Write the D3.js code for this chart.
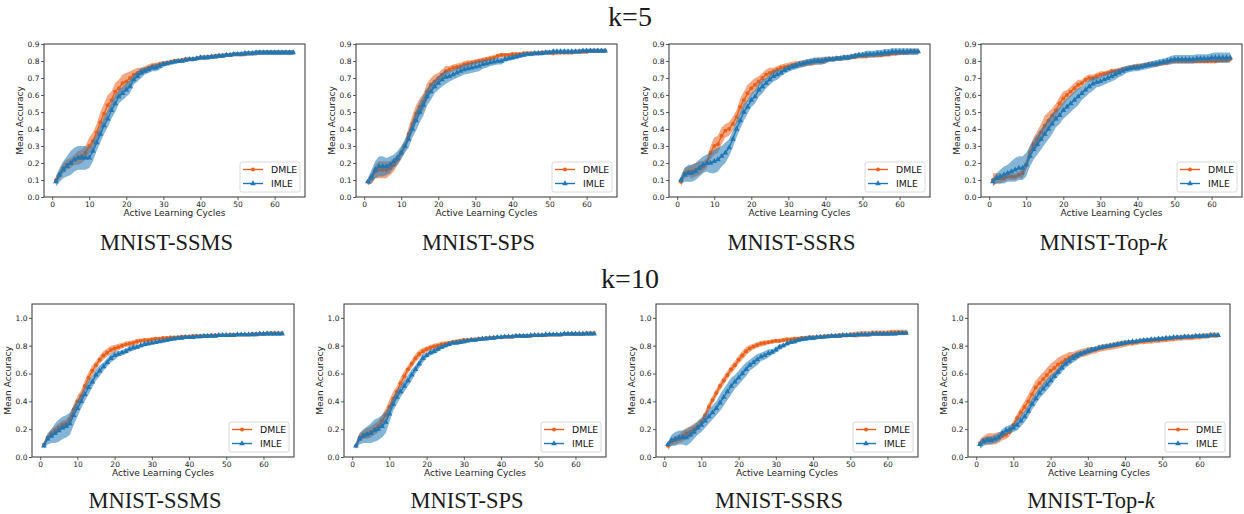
<!DOCTYPE html>
<html>
<head>
<meta charset="utf-8">
<script src="https://cdn.jsdelivr.net/npm/d3@7"></script>
<style>
  body { margin: 0; background: #fff; }
  .tick text { font-family: "DejaVu Sans", sans-serif; font-size: 7.5px; fill: #222; }
  .tick line { stroke: #333; stroke-width: 0.8; }
  .axis-label { font-family: "DejaVu Sans", sans-serif; font-size: 9px; fill: #222; }
  .legend-text { font-family: "DejaVu Sans", sans-serif; font-size: 9.3px; fill: #111; }
  .caption { font-family: "Liberation Serif", serif; font-size: 22.5px; fill: #1a1a1a; }
  .header { font-family: "Liberation Serif", serif; font-size: 28px; fill: #1a1a1a; }
</style>
</head>
<body>
<svg id="chart" width="1244" height="514"></svg>
<script>
// active learning cycles 1..65
const cycles = [1,2,3,4,5,6,7,8,9,10,11,12,13,14,15,16,17,18,19,20,21,22,23,24,25,26,27,28,29,30,
  31,32,33,34,35,36,37,38,39,40,41,42,43,44,45,46,47,48,49,50,51,52,53,54,55,56,57,58,59,60,61,62,63,64,65];
const xTicks = [0,10,20,30,40,50,60];
const yTicksK5 = [0,0.1,0.2,0.3,0.4,0.5,0.6,0.7,0.8,0.9];
const yTicksK10 = [0,0.2,0.4,0.6,0.8,1.0];
const seriesNames = ['DMLE','IMLE'];
const captions = ['MNIST-SSMS','MNIST-SPS','MNIST-SSRS','MNIST-Top-'];
const headers = ['k=5','k=10'];

// ---- k=5 ----
const k5SsmsDmle = [0.10,0.13,0.17,0.19,0.20,0.22,0.23,0.24,0.26,0.30,
  0.33,0.38,0.44,0.49,0.54,0.57,0.62,0.64,0.67,0.68,
  0.70,0.72,0.73,0.74,0.75,0.76,0.77,0.775,0.78,0.785,
  0.79,0.795,0.80,0.80,0.805,0.81,0.81,0.81,0.815,0.82,
  0.82,0.825,0.825,0.83,0.83,0.83,0.835,0.835,0.84,0.84,
  0.84,0.84,0.845,0.845,0.845,0.85,0.85,0.85,0.85,0.85,
  0.85,0.85,0.85,0.85,0.85];
const k5SsmsDmleSd = [0.02,0.03,0.03,0.03,0.03,0.03,0.04,0.04,0.04,0.05,
  0.05,0.05,0.06,0.06,0.06,0.05,0.05,0.05,0.05,0.05,
  0.04,0.03,0.03,0.02,0.02,0.02,0.02,0.015,0.015,0.015,
  0.012,0.012,0.012,0.012,0.012,0.012,0.012,0.012,0.012,0.012,
  0.012,0.012,0.012,0.012,0.012,0.012,0.012,0.012,0.012,0.012,
  0.012,0.012,0.012,0.012,0.012,0.012,0.012,0.012,0.012,0.012,
  0.012,0.012,0.012,0.012,0.012];
const k5SsmsImle = [0.09,0.13,0.16,0.18,0.20,0.22,0.23,0.23,0.23,0.23,
  0.27,0.32,0.37,0.42,0.46,0.51,0.55,0.59,0.61,0.63,
  0.65,0.69,0.71,0.73,0.74,0.75,0.76,0.76,0.77,0.78,
  0.785,0.79,0.795,0.80,0.80,0.805,0.81,0.81,0.815,0.82,
  0.82,0.82,0.825,0.825,0.83,0.83,0.835,0.835,0.84,0.84,
  0.84,0.845,0.845,0.845,0.85,0.85,0.85,0.85,0.85,0.85,
  0.85,0.85,0.85,0.85,0.85];
const k5SsmsImleSd = [0.03,0.04,0.05,0.06,0.07,0.07,0.07,0.07,0.07,0.06,
  0.06,0.05,0.05,0.05,0.05,0.05,0.05,0.04,0.04,0.04,
  0.04,0.03,0.03,0.03,0.02,0.02,0.02,0.02,0.02,0.015,
  0.012,0.012,0.012,0.012,0.012,0.012,0.012,0.012,0.012,0.012,
  0.012,0.012,0.012,0.012,0.012,0.012,0.012,0.012,0.012,0.012,
  0.014,0.014,0.014,0.014,0.014,0.014,0.014,0.014,0.014,0.014,
  0.014,0.014,0.014,0.014,0.014];

const k5SpsDmle = [0.09,0.11,0.15,0.16,0.16,0.16,0.17,0.19,0.22,0.26,
  0.30,0.37,0.43,0.49,0.53,0.56,0.62,0.66,0.68,0.70,
  0.72,0.74,0.75,0.76,0.765,0.77,0.78,0.785,0.79,0.795,
  0.80,0.805,0.81,0.815,0.82,0.83,0.835,0.835,0.835,0.84,
  0.84,0.84,0.845,0.845,0.845,0.845,0.845,0.85,0.85,0.85,
  0.845,0.85,0.85,0.85,0.85,0.85,0.855,0.855,0.855,0.855,
  0.86,0.86,0.86,0.86,0.86];
const k5SpsDmleSd = [0.02,0.03,0.04,0.05,0.05,0.05,0.04,0.04,0.03,0.03,
  0.03,0.04,0.05,0.05,0.05,0.05,0.05,0.04,0.04,0.03,
  0.03,0.03,0.02,0.02,0.02,0.02,0.02,0.02,0.015,0.015,
  0.015,0.015,0.015,0.015,0.015,0.012,0.012,0.012,0.012,0.012,
  0.012,0.012,0.012,0.012,0.012,0.012,0.012,0.012,0.012,0.012,
  0.012,0.012,0.012,0.012,0.012,0.012,0.012,0.012,0.012,0.012,
  0.012,0.012,0.012,0.012,0.012];
const k5SpsImle = [0.09,0.12,0.16,0.18,0.18,0.18,0.19,0.21,0.23,0.26,
  0.30,0.34,0.40,0.45,0.50,0.54,0.59,0.62,0.65,0.67,
  0.69,0.705,0.71,0.72,0.73,0.74,0.75,0.755,0.76,0.765,
  0.77,0.78,0.785,0.79,0.795,0.80,0.80,0.81,0.815,0.82,
  0.825,0.83,0.835,0.84,0.84,0.845,0.845,0.845,0.85,0.85,
  0.855,0.855,0.855,0.855,0.855,0.855,0.855,0.855,0.86,0.86,
  0.86,0.86,0.86,0.86,0.86];
const k5SpsImleSd = [0.02,0.04,0.05,0.06,0.06,0.05,0.05,0.04,0.04,0.04,
  0.04,0.05,0.05,0.06,0.06,0.06,0.05,0.05,0.04,0.04,
  0.04,0.04,0.03,0.03,0.03,0.03,0.03,0.03,0.03,0.03,
  0.03,0.025,0.025,0.02,0.02,0.02,0.02,0.015,0.015,0.015,
  0.012,0.012,0.012,0.012,0.012,0.012,0.012,0.012,0.012,0.012,
  0.012,0.012,0.012,0.012,0.012,0.012,0.012,0.012,0.012,0.012,
  0.012,0.012,0.012,0.012,0.012];

const k5SsrsDmle = [0.09,0.14,0.15,0.15,0.16,0.17,0.18,0.20,0.26,0.30,
  0.31,0.36,0.39,0.40,0.43,0.47,0.53,0.57,0.61,0.64,
  0.66,0.68,0.70,0.72,0.73,0.74,0.75,0.76,0.765,0.77,
  0.775,0.78,0.78,0.785,0.79,0.79,0.795,0.80,0.80,0.805,
  0.81,0.81,0.815,0.815,0.82,0.82,0.825,0.825,0.83,0.83,
  0.83,0.835,0.835,0.835,0.835,0.84,0.84,0.845,0.845,0.85,
  0.85,0.85,0.855,0.855,0.855];
const k5SsrsDmleSd = [0.03,0.03,0.03,0.04,0.04,0.04,0.03,0.03,0.04,0.05,
  0.05,0.05,0.04,0.04,0.04,0.04,0.05,0.05,0.05,0.04,
  0.04,0.03,0.03,0.03,0.03,0.02,0.02,0.02,0.02,0.02,
  0.02,0.02,0.02,0.02,0.02,0.02,0.02,0.02,0.02,0.02,
  0.015,0.015,0.015,0.015,0.015,0.015,0.015,0.015,0.015,0.015,
  0.015,0.015,0.015,0.015,0.015,0.015,0.015,0.015,0.015,0.015,
  0.015,0.015,0.015,0.015,0.015];
const k5SsrsImle = [0.10,0.13,0.14,0.14,0.15,0.17,0.19,0.20,0.20,0.21,
  0.22,0.24,0.26,0.29,0.34,0.40,0.45,0.50,0.53,0.57,
  0.59,0.63,0.65,0.67,0.69,0.71,0.72,0.73,0.745,0.755,
  0.765,0.77,0.78,0.785,0.79,0.795,0.80,0.80,0.80,0.805,
  0.81,0.81,0.815,0.815,0.82,0.82,0.825,0.83,0.835,0.835,
  0.84,0.84,0.84,0.845,0.845,0.85,0.85,0.855,0.855,0.855,
  0.855,0.855,0.855,0.855,0.855];
const k5SsrsImleSd = [0.02,0.04,0.05,0.05,0.05,0.05,0.05,0.05,0.06,0.07,
  0.07,0.06,0.06,0.05,0.05,0.05,0.05,0.05,0.04,0.04,
  0.04,0.04,0.04,0.03,0.03,0.03,0.03,0.02,0.02,0.02,
  0.02,0.02,0.02,0.02,0.02,0.02,0.02,0.02,0.02,0.02,
  0.015,0.015,0.015,0.015,0.015,0.015,0.015,0.015,0.015,0.015,
  0.02,0.02,0.02,0.02,0.02,0.02,0.02,0.02,0.02,0.02,
  0.02,0.02,0.02,0.02,0.02];

const k5TopkDmle = [0.10,0.11,0.11,0.11,0.12,0.12,0.12,0.13,0.14,0.19,
  0.26,0.31,0.34,0.38,0.42,0.45,0.48,0.51,0.55,0.58,
  0.60,0.62,0.64,0.66,0.67,0.69,0.70,0.70,0.71,0.72,
  0.725,0.73,0.74,0.74,0.745,0.75,0.755,0.76,0.765,0.77,
  0.77,0.775,0.78,0.78,0.78,0.785,0.79,0.79,0.80,0.80,
  0.80,0.80,0.80,0.80,0.80,0.80,0.80,0.80,0.80,0.80,
  0.80,0.805,0.805,0.805,0.81];
const k5TopkDmleSd = [0.04,0.03,0.03,0.02,0.02,0.02,0.02,0.02,0.03,0.03,
  0.04,0.04,0.05,0.05,0.06,0.05,0.04,0.04,0.04,0.04,
  0.03,0.03,0.03,0.03,0.02,0.02,0.02,0.02,0.02,0.02,
  0.015,0.015,0.015,0.015,0.015,0.015,0.015,0.015,0.015,0.015,
  0.015,0.015,0.015,0.015,0.015,0.015,0.015,0.015,0.015,0.015,
  0.015,0.015,0.015,0.015,0.015,0.015,0.015,0.015,0.015,0.015,
  0.015,0.015,0.015,0.015,0.015];
const k5TopkImle = [0.09,0.11,0.12,0.13,0.14,0.15,0.16,0.17,0.17,0.19,
  0.24,0.28,0.31,0.34,0.37,0.40,0.43,0.46,0.48,0.51,
  0.53,0.55,0.57,0.59,0.61,0.63,0.65,0.665,0.675,0.68,
  0.69,0.70,0.71,0.72,0.73,0.74,0.75,0.755,0.76,0.76,
  0.765,0.77,0.775,0.78,0.785,0.79,0.795,0.80,0.805,0.81,
  0.81,0.81,0.81,0.81,0.81,0.815,0.815,0.815,0.815,0.82,
  0.82,0.82,0.82,0.82,0.82];
const k5TopkImleSd = [0.02,0.03,0.04,0.05,0.05,0.06,0.07,0.07,0.07,0.07,
  0.06,0.06,0.06,0.06,0.06,0.06,0.06,0.05,0.05,0.05,
  0.05,0.05,0.05,0.05,0.04,0.04,0.04,0.04,0.03,0.03,
  0.03,0.03,0.03,0.03,0.025,0.025,0.02,0.02,0.02,0.02,
  0.02,0.02,0.02,0.02,0.02,0.02,0.02,0.02,0.025,0.025,
  0.025,0.025,0.025,0.025,0.025,0.025,0.025,0.025,0.025,0.025,
  0.03,0.03,0.03,0.03,0.03];

// ---- k=10 ----
const k10SsmsDmle = [0.09,0.14,0.17,0.19,0.21,0.23,0.24,0.27,0.34,0.40,
  0.44,0.51,0.57,0.62,0.66,0.70,0.73,0.75,0.77,0.78,
  0.79,0.80,0.81,0.815,0.82,0.83,0.835,0.84,0.84,0.845,
  0.85,0.85,0.855,0.855,0.86,0.86,0.86,0.865,0.865,0.865,
  0.87,0.87,0.87,0.87,0.87,0.875,0.875,0.875,0.875,0.875,
  0.88,0.88,0.88,0.88,0.88,0.88,0.885,0.885,0.885,0.885,
  0.89,0.89,0.89,0.89,0.89];
const k10SsmsDmleSd = [0.02,0.02,0.03,0.03,0.03,0.03,0.03,0.04,0.04,0.04,
  0.04,0.04,0.04,0.04,0.03,0.03,0.03,0.03,0.03,0.025,
  0.025,0.02,0.02,0.02,0.02,0.02,0.015,0.015,0.015,0.015,
  0.012,0.012,0.012,0.012,0.012,0.012,0.012,0.012,0.012,0.012,
  0.012,0.012,0.012,0.012,0.012,0.012,0.012,0.012,0.012,0.012,
  0.012,0.012,0.012,0.012,0.012,0.012,0.012,0.012,0.012,0.012,
  0.012,0.012,0.012,0.012,0.012];
const k10SsmsImle = [0.08,0.13,0.15,0.17,0.19,0.21,0.22,0.24,0.30,0.35,
  0.40,0.45,0.50,0.54,0.59,0.62,0.65,0.68,0.71,0.73,
  0.74,0.75,0.76,0.775,0.785,0.79,0.80,0.81,0.815,0.82,
  0.825,0.83,0.835,0.84,0.845,0.85,0.855,0.855,0.86,0.86,
  0.86,0.865,0.865,0.87,0.87,0.87,0.87,0.875,0.875,0.875,
  0.875,0.875,0.88,0.88,0.88,0.88,0.88,0.88,0.885,0.885,
  0.885,0.885,0.885,0.885,0.885];
const k10SsmsImleSd = [0.02,0.04,0.05,0.07,0.08,0.08,0.08,0.08,0.07,0.06,
  0.05,0.05,0.05,0.04,0.04,0.04,0.03,0.03,0.03,0.03,
  0.02,0.02,0.02,0.02,0.02,0.015,0.015,0.015,0.015,0.015,
  0.012,0.012,0.012,0.012,0.012,0.012,0.012,0.012,0.012,0.012,
  0.012,0.012,0.012,0.012,0.012,0.012,0.012,0.012,0.012,0.012,
  0.012,0.012,0.012,0.012,0.012,0.012,0.012,0.012,0.012,0.012,
  0.012,0.012,0.012,0.012,0.012];

const k10SpsDmle = [0.08,0.14,0.16,0.17,0.18,0.20,0.22,0.26,0.30,0.36,
  0.42,0.47,0.53,0.58,0.63,0.67,0.71,0.74,0.76,0.775,
  0.785,0.795,0.80,0.81,0.815,0.82,0.825,0.83,0.835,0.84,
  0.84,0.845,0.845,0.85,0.85,0.855,0.855,0.86,0.86,0.86,
  0.865,0.865,0.865,0.87,0.87,0.87,0.87,0.87,0.875,0.875,
  0.875,0.875,0.88,0.88,0.88,0.88,0.885,0.885,0.885,0.885,
  0.885,0.885,0.89,0.89,0.89];
const k10SpsDmleSd = [0.02,0.03,0.03,0.04,0.04,0.04,0.04,0.04,0.05,0.05,
  0.05,0.04,0.04,0.04,0.03,0.03,0.03,0.03,0.025,0.02,
  0.02,0.02,0.02,0.02,0.015,0.015,0.015,0.015,0.015,0.015,
  0.012,0.012,0.012,0.012,0.012,0.012,0.012,0.012,0.012,0.012,
  0.012,0.012,0.012,0.012,0.012,0.012,0.012,0.012,0.012,0.012,
  0.012,0.012,0.012,0.012,0.012,0.012,0.012,0.012,0.012,0.012,
  0.012,0.012,0.012,0.012,0.012];
const k10SpsImle = [0.08,0.13,0.15,0.16,0.17,0.19,0.20,0.22,0.25,0.31,
  0.38,0.43,0.47,0.51,0.55,0.59,0.63,0.67,0.71,0.73,
  0.75,0.76,0.775,0.79,0.80,0.81,0.82,0.82,0.825,0.83,
  0.835,0.84,0.84,0.845,0.85,0.85,0.855,0.855,0.86,0.86,
  0.865,0.865,0.865,0.87,0.87,0.87,0.87,0.875,0.875,0.875,
  0.875,0.88,0.88,0.88,0.88,0.88,0.885,0.885,0.885,0.885,
  0.885,0.885,0.885,0.885,0.885];
const k10SpsImleSd = [0.02,0.04,0.05,0.06,0.07,0.08,0.08,0.08,0.08,0.06,
  0.05,0.05,0.04,0.04,0.04,0.04,0.03,0.03,0.03,0.02,
  0.02,0.02,0.02,0.015,0.015,0.015,0.015,0.015,0.015,0.015,
  0.012,0.012,0.012,0.012,0.012,0.012,0.012,0.012,0.012,0.012,
  0.012,0.012,0.012,0.012,0.012,0.012,0.012,0.012,0.012,0.012,
  0.012,0.012,0.012,0.012,0.012,0.012,0.012,0.012,0.012,0.012,
  0.012,0.012,0.012,0.012,0.012];

const k10SsrsDmle = [0.08,0.11,0.12,0.13,0.15,0.17,0.18,0.20,0.22,0.25,
  0.30,0.36,0.41,0.46,0.51,0.55,0.59,0.63,0.66,0.70,
  0.73,0.76,0.78,0.795,0.805,0.815,0.82,0.825,0.83,0.835,
  0.835,0.84,0.845,0.845,0.85,0.85,0.855,0.855,0.86,0.86,
  0.86,0.865,0.865,0.87,0.87,0.87,0.875,0.875,0.875,0.88,
  0.88,0.88,0.885,0.885,0.885,0.89,0.89,0.89,0.89,0.89,
  0.895,0.895,0.895,0.895,0.895];
const k10SsrsDmleSd = [0.03,0.03,0.03,0.03,0.04,0.04,0.04,0.04,0.03,0.03,
  0.03,0.03,0.03,0.03,0.03,0.03,0.03,0.03,0.03,0.03,
  0.03,0.03,0.025,0.02,0.02,0.02,0.02,0.015,0.015,0.015,
  0.015,0.015,0.015,0.015,0.015,0.015,0.015,0.015,0.015,0.015,
  0.015,0.015,0.015,0.015,0.015,0.015,0.015,0.015,0.015,0.015,
  0.02,0.02,0.02,0.02,0.02,0.02,0.02,0.02,0.02,0.02,
  0.02,0.02,0.02,0.02,0.02];
const k10SsrsImle = [0.09,0.12,0.13,0.14,0.14,0.14,0.16,0.18,0.21,0.23,
  0.26,0.29,0.32,0.35,0.39,0.43,0.47,0.51,0.54,0.57,
  0.60,0.63,0.66,0.68,0.70,0.72,0.73,0.745,0.755,0.77,
  0.79,0.80,0.815,0.825,0.83,0.84,0.845,0.85,0.855,0.855,
  0.86,0.86,0.865,0.865,0.87,0.87,0.87,0.875,0.875,0.875,
  0.875,0.88,0.88,0.88,0.88,0.885,0.885,0.885,0.885,0.885,
  0.885,0.885,0.89,0.89,0.89];
const k10SsrsImleSd = [0.02,0.04,0.05,0.05,0.05,0.06,0.06,0.05,0.05,0.05,
  0.05,0.05,0.05,0.05,0.06,0.06,0.06,0.06,0.05,0.05,
  0.05,0.05,0.04,0.04,0.04,0.03,0.03,0.03,0.02,0.02,
  0.02,0.015,0.015,0.015,0.015,0.015,0.015,0.015,0.015,0.015,
  0.012,0.012,0.012,0.012,0.012,0.012,0.012,0.012,0.012,0.012,
  0.012,0.012,0.012,0.012,0.012,0.012,0.012,0.012,0.012,0.012,
  0.012,0.012,0.012,0.012,0.012];

const k10TopkDmle = [0.10,0.12,0.13,0.13,0.13,0.14,0.15,0.16,0.18,0.23,
  0.28,0.32,0.36,0.40,0.45,0.50,0.53,0.56,0.59,0.62,
  0.64,0.665,0.68,0.70,0.715,0.725,0.735,0.745,0.75,0.76,
  0.765,0.77,0.78,0.785,0.79,0.795,0.80,0.805,0.81,0.815,
  0.82,0.82,0.825,0.83,0.83,0.835,0.835,0.84,0.84,0.845,
  0.845,0.85,0.85,0.855,0.855,0.86,0.86,0.86,0.865,0.865,
  0.87,0.87,0.875,0.875,0.875];
const k10TopkDmleSd = [0.03,0.03,0.04,0.04,0.04,0.04,0.03,0.03,0.03,0.03,
  0.03,0.04,0.04,0.05,0.05,0.05,0.05,0.05,0.05,0.05,
  0.05,0.05,0.05,0.04,0.04,0.03,0.03,0.03,0.03,0.03,
  0.025,0.025,0.025,0.025,0.025,0.025,0.025,0.025,0.025,0.025,
  0.02,0.02,0.02,0.02,0.02,0.02,0.02,0.02,0.02,0.02,
  0.02,0.02,0.02,0.02,0.02,0.02,0.02,0.02,0.02,0.02,
  0.02,0.02,0.02,0.02,0.02];
const k10TopkImle = [0.09,0.11,0.12,0.12,0.13,0.14,0.17,0.19,0.20,0.21,
  0.23,0.26,0.29,0.33,0.38,0.42,0.46,0.49,0.52,0.55,
  0.58,0.61,0.64,0.67,0.69,0.71,0.725,0.74,0.75,0.76,
  0.77,0.775,0.785,0.79,0.795,0.80,0.805,0.81,0.815,0.82,
  0.825,0.83,0.83,0.835,0.84,0.84,0.845,0.845,0.85,0.85,
  0.855,0.855,0.86,0.86,0.86,0.865,0.865,0.865,0.87,0.87,
  0.87,0.87,0.875,0.875,0.875];
const k10TopkImleSd = [0.03,0.03,0.03,0.03,0.03,0.03,0.03,0.03,0.03,0.03,
  0.04,0.04,0.04,0.04,0.04,0.04,0.04,0.04,0.04,0.04,
  0.03,0.03,0.03,0.03,0.03,0.03,0.03,0.02,0.02,0.02,
  0.02,0.015,0.015,0.015,0.015,0.015,0.015,0.015,0.015,0.015,
  0.012,0.012,0.012,0.012,0.012,0.012,0.012,0.012,0.012,0.012,
  0.012,0.012,0.012,0.012,0.012,0.012,0.012,0.012,0.012,0.012,
  0.012,0.012,0.012,0.012,0.012];

const colors = {DMLE: '#e8601c', IMLE: '#1f77b4'};

let svg = d3.select('#chart');

// layout of the 8 panels
let rows = [
  {lefts: [44, 356, 669, 981], top: 44, w: 261, h: 153, ymax: 0.9, yTicks: yTicksK5, captionY: 250, headerY: 26,
   data: [[k5SsmsDmle,k5SsmsDmleSd,k5SsmsImle,k5SsmsImleSd],[k5SpsDmle,k5SpsDmleSd,k5SpsImle,k5SpsImleSd],
          [k5SsrsDmle,k5SsrsDmleSd,k5SsrsImle,k5SsrsImleSd],[k5TopkDmle,k5TopkDmleSd,k5TopkImle,k5TopkImleSd]]},
  {lefts: [32, 344, 656, 968], top: 304, w: 262, h: 153, ymax: 1.1, yTicks: yTicksK10, captionY: 508, headerY: 288,
   data: [[k10SsmsDmle,k10SsmsDmleSd,k10SsmsImle,k10SsmsImleSd],[k10SpsDmle,k10SpsDmleSd,k10SpsImle,k10SpsImleSd],
          [k10SsrsDmle,k10SsrsDmleSd,k10SsrsImle,k10SsrsImleSd],[k10TopkDmle,k10TopkDmleSd,k10TopkImle,k10TopkImleSd]]}
];

rows.forEach(function(row, r) {
  svg.append('text').attr('class', 'header')
    .attr('x', 630).attr('y', row.headerY)
    .attr('text-anchor', 'middle')
    .text(headers[r]);

  row.lefts.forEach(function(left, c) {
    let d = row.data[c];
    drawPanel(left, row.top, row.w, row.h, row.ymax, row.yTicks, [
      {name: 'DMLE', mean: d[0], sd: d[1]},
      {name: 'IMLE', mean: d[2], sd: d[3]}
    ]);
    let cap = svg.append('text').attr('class', 'caption')
      .attr('x', left + row.w / 2 - 8).attr('y', row.captionY)
      .attr('text-anchor', 'middle')
      .text(captions[c]);
    if (c === 3) cap.append('tspan').style('font-style', 'italic').text('k');
  });
});

function markerFor(name) {
  return d3.symbol()
    .type(name === 'DMLE' ? d3.symbolCircle : d3.symbolTriangle)
    .size(name === 'DMLE' ? 12 : 14);
}

function drawPanel(left, top, w, h, ymax, yTicks, series) {
  let x = d3.scaleLinear().domain([-2.2, 68.2]).range([0, w]);
  let y = d3.scaleLinear().domain([0, ymax]).range([h, 0]);

  let g = svg.append('g').attr('transform', 'translate(' + left + ',' + top + ')');

  series.forEach(function(s) {
    let col = colors[s.name];
    let band = d3.area()
      .x(function(v, i) { return x(cycles[i]); })
      .y0(function(v, i) { return y(v - s.sd[i]); })
      .y1(function(v, i) { return y(v + s.sd[i]); });
    g.append('path').datum(s.mean)
      .attr('d', band)
      .attr('fill', col).attr('fill-opacity', 0.55).attr('stroke', 'none');

    let line = d3.line()
      .x(function(v, i) { return x(cycles[i]); })
      .y(function(v) { return y(v); });
    g.append('path').datum(s.mean)
      .attr('d', line)
      .attr('fill', 'none').attr('stroke', col).attr('stroke-width', 1.4);

    g.append('g').selectAll('path')
      .data(s.mean)
      .enter().append('path')
        .attr('d', markerFor(s.name))
        .attr('transform', function(v, i) { return 'translate(' + x(cycles[i]) + ',' + y(v) + ')'; })
        .attr('fill', col);
  });

  // axes
  let xAxis = d3.axisBottom(x).tickValues(xTicks).tickSize(3).tickPadding(1.5).tickFormat(d3.format('d'));
  let yAxis = d3.axisLeft(y).tickValues(yTicks).tickSize(3).tickPadding(1.5).tickFormat(d3.format('.1f'));
  g.append('g').attr('transform', 'translate(0,' + h + ')').call(xAxis).select('.domain').remove();
  g.append('g').call(yAxis).select('.domain').remove();

  g.append('rect')
    .attr('width', w).attr('height', h)
    .attr('fill', 'none').attr('stroke', '#333').attr('stroke-width', 1);

  g.append('text').attr('class', 'axis-label')
    .attr('x', w / 2).attr('y', h + 19)
    .attr('text-anchor', 'middle')
    .text('Active Learning Cycles');
  g.append('text').attr('class', 'axis-label')
    .attr('transform', 'translate(-21,' + (h / 2) + ') rotate(-90)')
    .attr('text-anchor', 'middle')
    .text('Mean Accuracy');

  // legend, lower right
  let lg = g.append('g').attr('transform', 'translate(' + (w - 65) + ',' + (h - 35) + ')');
  lg.append('rect')
    .attr('width', 60).attr('height', 30).attr('rx', 2)
    .attr('fill', '#fff').attr('fill-opacity', 0.8)
    .attr('stroke', '#d0d0d0').attr('stroke-width', 0.8);
  seriesNames.forEach(function(name, i) {
    let ly = 7.5 + i * 14;
    let col = colors[name];
    lg.append('line')
      .attr('x1', 3).attr('x2', 23).attr('y1', ly).attr('y2', ly)
      .attr('stroke', col).attr('stroke-width', 1.4);
    lg.append('path')
      .attr('d', markerFor(name))
      .attr('transform', 'translate(13,' + ly + ')')
      .attr('fill', col);
    lg.append('text').attr('class', 'legend-text')
      .attr('x', 31).attr('y', ly)
      .attr('dy', '0.35em')
      .text(name);
  });
}
</script>
</body>
</html>
